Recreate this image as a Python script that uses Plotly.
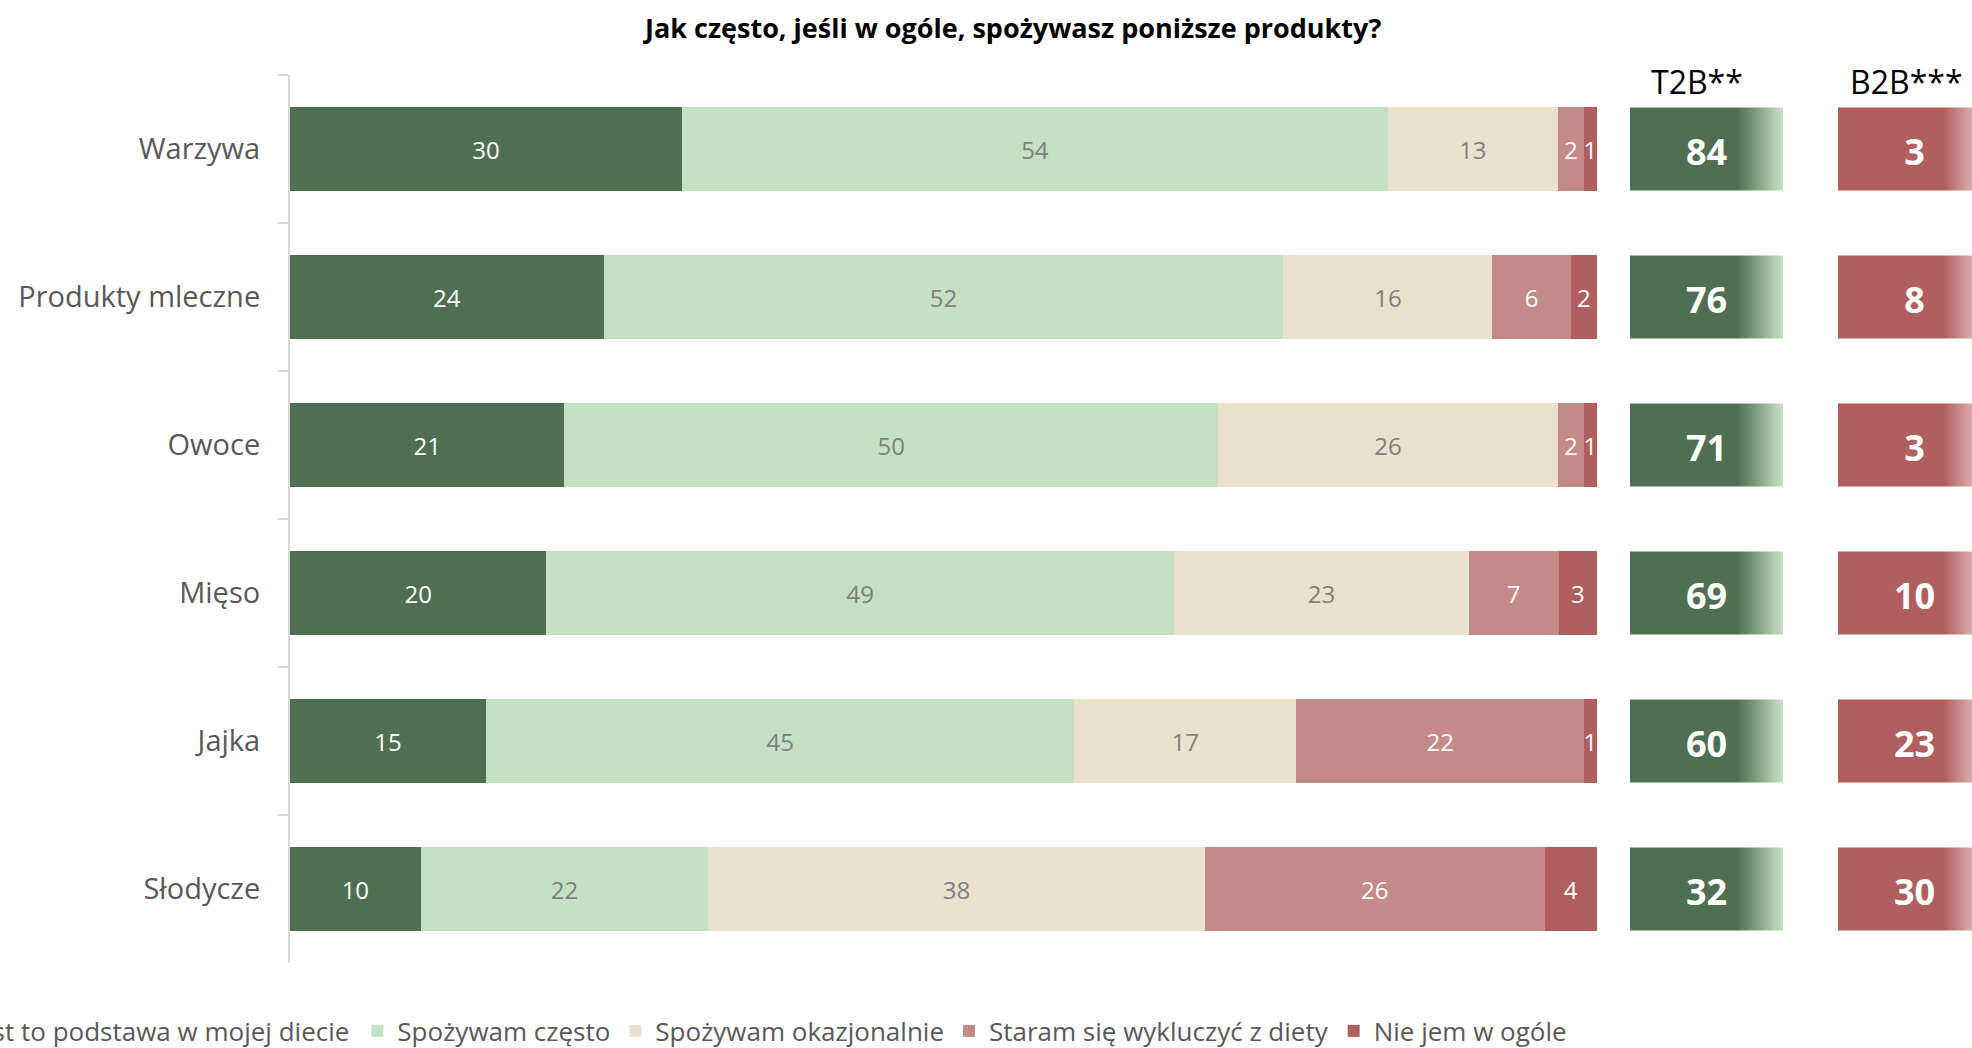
import plotly.graph_objects as go

# ---------------- data ----------------
categories = ["Warzywa", "Produkty mleczne", "Owoce", "Mięso", "Jajka", "Słodycze"]
series_names = [
    "Jest to podstawa w mojej diecie",
    "Spożywam często",
    "Spożywam okazjonalnie",
    "Staram się wykluczyć z diety",
    "Nie jem w ogóle",
]
podstawa = [30, 24, 21, 20, 15, 10]
czesto = [54, 52, 50, 49, 45, 22]
okazjonalnie = [13, 16, 26, 23, 17, 38]
wykluczyc = [2, 6, 2, 7, 22, 26]
nie_jem = [1, 2, 1, 3, 1, 4]
t2b = [84, 76, 71, 69, 60, 32]
b2b = [3, 8, 3, 10, 23, 30]
title_text = "Jak często, jeśli w ogóle, spożywasz poniższe produkty?"
t2b_label = "T2B**"
b2b_label = "B2B***"

# ---------------- style ----------------
W, H = 1972, 1048
FONT = "Open Sans"
colors = ["#4f6f52", "#c4e2c3", "#ebe2cd", "#c48a88", "#b05e5e"]
text_colors = ["white", "#7f7f7f", "#7f7f7f", "white", "white"]
series = [podstawa, czesto, okazjonalnie, wykluczyc, nie_jem]

def px(v):
    return v / W

def py(v):
    return 1 - v / H

fig = go.Figure()

for name, vals, col, tcol in zip(series_names, series, colors, text_colors):
    fig.add_trace(go.Bar(
        y=categories, x=vals, name=name, orientation="h",
        marker=dict(color=col, line=dict(width=0)),
        width=0.57,
        text=vals, textposition="inside", insidetextanchor="middle",
        textfont=dict(family=FONT, size=24, color=tcol),
        hoverinfo="skip",
    ))

# summary boxes (T2B / B2B)
h = 0.28
def box_path(n):
    xs, ys = [], []
    for i in range(n):
        xs += [0, 1, 1, 0, 0, None]
        ys += [i - h, i - h, i + h, i + h, i - h, None]
    return xs, ys

bx, by = box_path(len(categories))
label_y = [i + 0.045 for i in range(len(categories))]

fig.add_trace(go.Scatter(
    x=bx, y=by, xaxis="x2", yaxis="y2", mode="lines", fill="toself",
    line=dict(width=0), showlegend=False, hoverinfo="skip",
    fillgradient=dict(type="horizontal",
                      colorscale=[[0, colors[0]], [0.70, colors[0]], [1, "#c4e2c3"]]),
))
fig.add_trace(go.Scatter(
    x=[0.5] * len(categories), y=label_y, xaxis="x2", yaxis="y2", mode="text",
    text=[str(v) for v in t2b], textposition="middle center",
    textfont=dict(family=FONT, size=36, color="white", weight="bold"),
    showlegend=False, hoverinfo="skip",
))
fig.add_trace(go.Scatter(
    x=bx, y=by, xaxis="x3", yaxis="y2", mode="lines", fill="toself",
    line=dict(width=0), showlegend=False, hoverinfo="skip",
    fillgradient=dict(type="horizontal",
                      colorscale=[[0, colors[4]], [0.69, colors[4]], [1, "#f5e2e2"]]),
))
fig.add_trace(go.Scatter(
    x=[0.5] * len(categories), y=label_y, xaxis="x3", yaxis="y2", mode="text",
    text=[str(v) for v in b2b], textposition="middle center",
    textfont=dict(family=FONT, size=36, color="white", weight="bold"),
    showlegend=False, hoverinfo="skip",
))

ydom = [py(963), py(75)]

fig.update_layout(
    width=W, height=H,
    paper_bgcolor="white", plot_bgcolor="white",
    margin=dict(l=0, r=0, t=0, b=0, autoexpand=False),
    barmode="stack", barnorm="percent",
    font=dict(family=FONT, color="#595959"),
    uniformtext=dict(minsize=24, mode="show"),
    xaxis=dict(domain=[px(290), px(1597)], range=[0, 100], visible=False, fixedrange=True),
    yaxis=dict(
        domain=ydom, type="category", categoryarray=categories, categoryorder="array",
        range=[5.5, -0.5], showline=True, linecolor="#d9d9d9", linewidth=2,
        ticks="outside", ticklen=10, tickwidth=2, tickcolor="#d9d9d9",
        tickson="boundaries", showgrid=False, zeroline=False,
        tickfont=dict(family=FONT, size=29, color="#595959"),
        ticklabelstandoff=22,
    ),
    xaxis2=dict(domain=[px(1630), px(1783)], range=[0, 1], visible=False, anchor="y2"),
    xaxis3=dict(domain=[px(1838), 1], range=[0, (W - 1838) / 153], visible=False, anchor="y2"),
    yaxis2=dict(domain=ydom, range=[5.5, -0.5], visible=False, anchor="x2"),
    legend=dict(
        orientation="h", x=px(1572), xanchor="right", y=py(1031), yanchor="middle",
        font=dict(family=FONT, size=26, color="#595959"),
        traceorder="normal", bgcolor="rgba(0,0,0,0)",
    ),
    annotations=[
        dict(text="<b>" + title_text + "</b>", x=px(1012), y=py(28), xref="paper", yref="paper",
             xanchor="center", yanchor="middle", showarrow=False,
             font=dict(family=FONT, size=27, color="black")),
        dict(text=t2b_label, x=px(1697), y=py(82), xref="paper", yref="paper",
             xanchor="center", yanchor="middle", showarrow=False,
             font=dict(family=FONT, size=32, color="black")),
        dict(text=b2b_label, x=px(1906), y=py(82), xref="paper", yref="paper",
             xanchor="center", yanchor="middle", showarrow=False,
             font=dict(family=FONT, size=32, color="black")),
    ],
)

fig.write_html("out.html", config={"displayModeBar": False},
               post_script="document.body.style.margin='0';")
